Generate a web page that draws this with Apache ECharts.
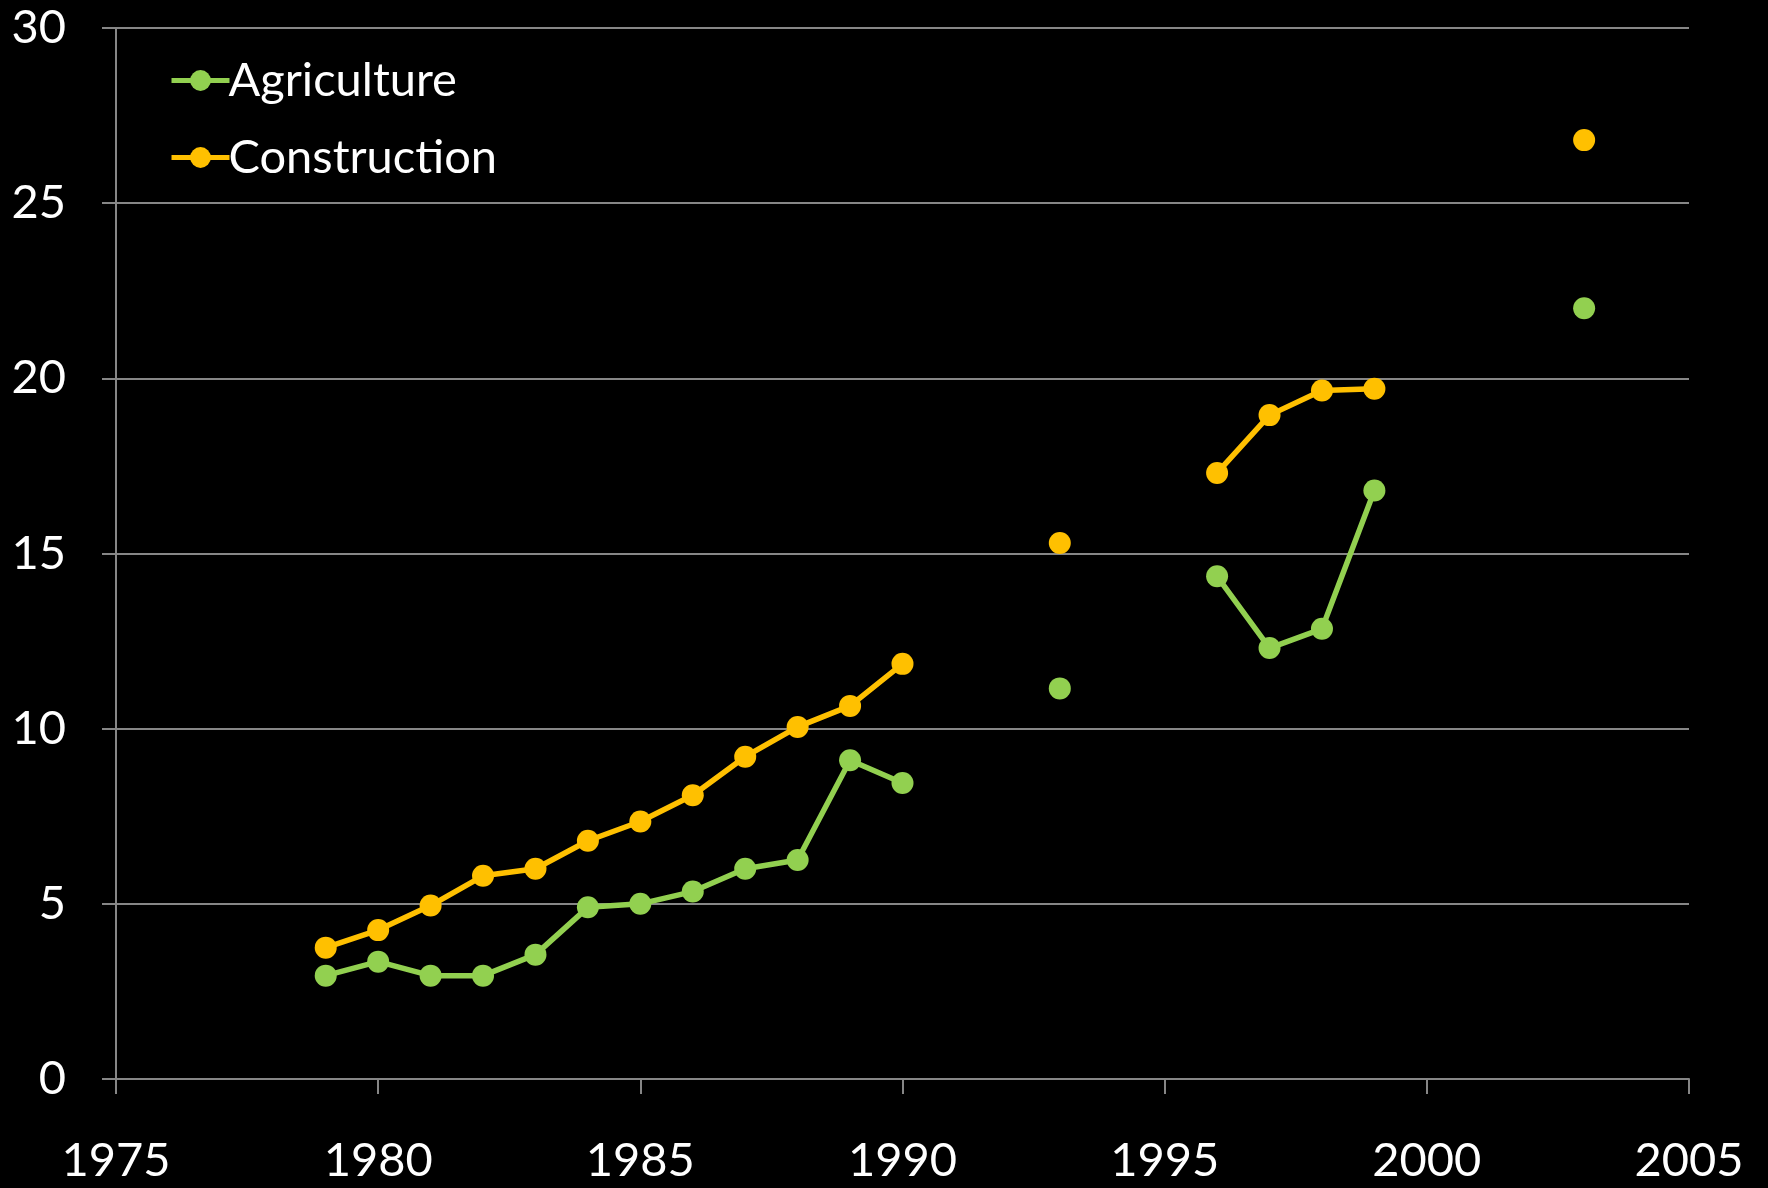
<!DOCTYPE html>
<html>
<head>
<meta charset="utf-8">
<script src="https://cdn.jsdelivr.net/npm/echarts@6/dist/echarts.min.js"></script>
<style>
  html, body { margin: 0; padding: 0; background: #000; }
  #chart { width: 1768px; height: 1188px; }
</style>
</head>
<body>
<div id="chart"></div>
<script>
// data (null = no value that year)
var years = [1979, 1980, 1981, 1982, 1983, 1984, 1985, 1986, 1987, 1988, 1989, 1990,
             1991, 1992, 1993, 1994, 1995, 1996, 1997, 1998, 1999, 2000, 2001, 2002, 2003];
var agriculture = [2.95, 3.35, 2.95, 2.95, 3.55, 4.9, 5.0, 5.35, 6.0, 6.25, 9.1, 8.45,
                   null, null, 11.15, null, null, 14.35, 12.3, 12.85, 16.8, null, null, null, 22.0];
var construction = [3.75, 4.25, 4.95, 5.8, 6.0, 6.8, 7.35, 8.1, 9.2, 10.05, 10.65, 11.85,
                    null, null, 15.3, null, null, 17.3, 18.95, 19.65, 19.7, null, null, null, 26.8];
var xTicks = [1975, 1980, 1985, 1990, 1995, 2000, 2005];
var yTicks = [0, 5, 10, 15, 20, 25, 30];

function pairs(vals) {
    return years.map(function (y, i) {
        return [y, vals[i] === null ? '-' : vals[i]];
    });
}

var chart = echarts.init(document.getElementById('chart'));

var axisGrey = '#868686';
var font = 'Lato, "Open Sans", sans-serif';

option = {
    backgroundColor: '#000',
    color: ['#92D050', '#FFC000'],
    animation: false,
    grid: { left: 116, right: 79, top: 28, bottom: 109 },
    legend: {
        orient: 'vertical',
        left: 164,
        top: 52,
        itemWidth: 58,
        itemHeight: 26,
        itemGap: 30,
        lineStyle: { width: 5 },
        textStyle: { color: '#fff', fontSize: 47, fontFamily: font, padding: [0, 0, 0, -6] },
        data: ['Agriculture', 'Construction']
    },
    xAxis: {
        type: 'value',
        min: xTicks[0],
        max: xTicks[xTicks.length - 1],
        interval: 5,
        axisLine: { show: true, onZero: false, lineStyle: { color: axisGrey, width: 2 } },
        axisTick: { show: true, length: 15, lineStyle: { color: axisGrey, width: 2 } },
        splitLine: { show: false },
        axisLabel: {
            color: '#fff', fontSize: 47, fontFamily: font, margin: 58,
            formatter: function (v) { return String(v); }
        }
    },
    yAxis: {
        type: 'value',
        min: yTicks[0],
        max: yTicks[yTicks.length - 1],
        interval: 5,
        axisLine: { show: true, lineStyle: { color: axisGrey, width: 2 } },
        axisTick: { show: true, length: 14, lineStyle: { color: axisGrey, width: 2 } },
        splitLine: { show: true, lineStyle: { color: axisGrey, width: 2 } },
        axisLabel: { color: '#fff', fontSize: 47, fontFamily: font, margin: 50 }
    },
    series: [
        {
            name: 'Agriculture',
            type: 'line',
            data: pairs(agriculture),
            connectNulls: false,
            symbol: 'circle',
            symbolSize: 22,
            lineStyle: { width: 5.5 },
            itemStyle: { color: '#92D050' }
        },
        {
            name: 'Construction',
            type: 'line',
            data: pairs(construction),
            connectNulls: false,
            symbol: 'circle',
            symbolSize: 22,
            lineStyle: { width: 5.5 },
            itemStyle: { color: '#FFC000' }
        }
    ]
};

chart.setOption(option, true);
</script>
</body>
</html>
